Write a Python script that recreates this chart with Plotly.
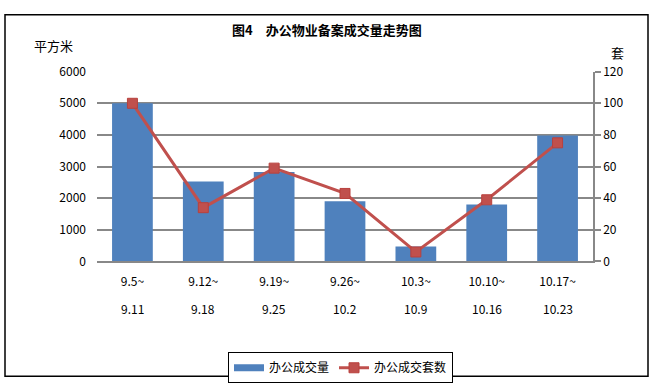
import plotly.graph_objects as go

categories_top = ["9.5~", "9.12~", "9.19~", "9.26~", "10.3~", "10.10~", "10.17~"]
categories_bottom = ["9.11", "9.18", "9.25", "10.2", "10.9", "10.16", "10.23"]
area_values = [5000, 2530, 2830, 1900, 470, 1800, 3980]
unit_values = [100, 34, 59, 43, 6, 39, 75]
left_ticks = [0, 1000, 2000, 3000, 4000, 5000, 6000]
right_ticks = [0, 20, 40, 60, 80, 100, 120]

W, H = 653, 387
FONT = "Noto Sans CJK SC, DejaVu Sans, sans-serif"
x_idx = list(range(len(categories_top)))

fig = go.Figure()
fig.add_trace(go.Bar(
    x=x_idx, y=area_values, name="办公成交量",
    marker=dict(color="#4F81BD", line=dict(width=0)),
    width=0.575, yaxis="y", showlegend=False,
))
fig.add_trace(go.Scatter(
    x=[None], y=[None], name="办公成交量", mode="lines",
    line=dict(color="#4F81BD", width=7), yaxis="y", showlegend=True,
))
fig.add_trace(go.Scatter(
    x=x_idx, y=unit_values, name="办公成交套数", mode="lines+markers",
    line=dict(color="#C0504D", width=3),
    marker=dict(symbol="square", size=10, color="#C0504D",
                line=dict(color="#B8403D", width=1)),
    yaxis="y2",
))

px = lambda v: v / W
py = lambda v: 1 - v / H

fig.update_layout(
    width=W, height=H,
    margin=dict(l=0, r=0, t=0, b=0),
    paper_bgcolor="white", plot_bgcolor="white",
    font=dict(family=FONT, size=12, color="black"),
    showlegend=True,
    xaxis=dict(
        domain=[px(97), px(593)],
        range=[-0.5, 6.5],
        tickmode="array", tickvals=x_idx, ticktext=categories_top,
        showgrid=False, showline=True, linecolor="#888888", linewidth=1.5,
        ticks="", zeroline=False, ticklabelstandoff=8,
        tickfont=dict(size=12, family=FONT),
    ),
    yaxis=dict(
        domain=[py(263), py(64.5)],
        range=[0, 6000],
        tickmode="array", tickvals=left_ticks,
        showgrid=True, gridcolor="#888888", gridwidth=1.5,
        showline=False, zeroline=False, ticks="",
        ticklabelstandoff=10,
        tickfont=dict(size=12, family=FONT),
    ),
    yaxis2=dict(
        overlaying="y", side="right",
        range=[0, 120],
        tickmode="array", tickvals=right_ticks,
        showgrid=False, showline=True, linecolor="#888888", linewidth=1.5,
        ticks="outside", ticklen=6, tickcolor="#888888", tickwidth=1.5,
        zeroline=False,
        tickfont=dict(size=12, family=FONT),
    ),
    legend=dict(
        orientation="h",
        x=px(228), y=py(358), xanchor="left", yanchor="top",
        bordercolor="black", borderwidth=1, bgcolor="white",
        font=dict(size=12, family=FONT),
        itemwidth=30, tracegroupgap=0,
    ),
)

annotations = [
    dict(text="<b>图4　办公物业备案成交量走势图</b>", x=px(327), y=py(20),
         xref="paper", yref="paper", showarrow=False,
         font=dict(size=13, family=FONT), xanchor="center", yanchor="middle"),
    dict(text="平方米", x=px(53), y=py(37), xref="paper", yref="paper",
         showarrow=False, font=dict(size=13, family=FONT),
         xanchor="center", yanchor="middle"),
    dict(text="套", x=px(617), y=py(44), xref="paper", yref="paper",
         showarrow=False, font=dict(size=13, family=FONT),
         xanchor="center", yanchor="middle"),
]
for i, lab in enumerate(categories_bottom):
    annotations.append(dict(
        text=lab, x=i, xref="x", y=py(312), yref="paper",
        showarrow=False, font=dict(size=12, family=FONT),
        xanchor="center", yanchor="middle"))
fig.update_layout(annotations=annotations)

fig.add_shape(type="rect", xref="paper", yref="paper",
              x0=px(5), x1=px(648), y0=py(383), y1=py(5),
              line=dict(color="black", width=1.5), fillcolor="rgba(0,0,0,0)")

fig.write_html("out.html", config={"displayModeBar": False},
               post_script="document.body.style.margin='0';document.body.style.padding='0';")
